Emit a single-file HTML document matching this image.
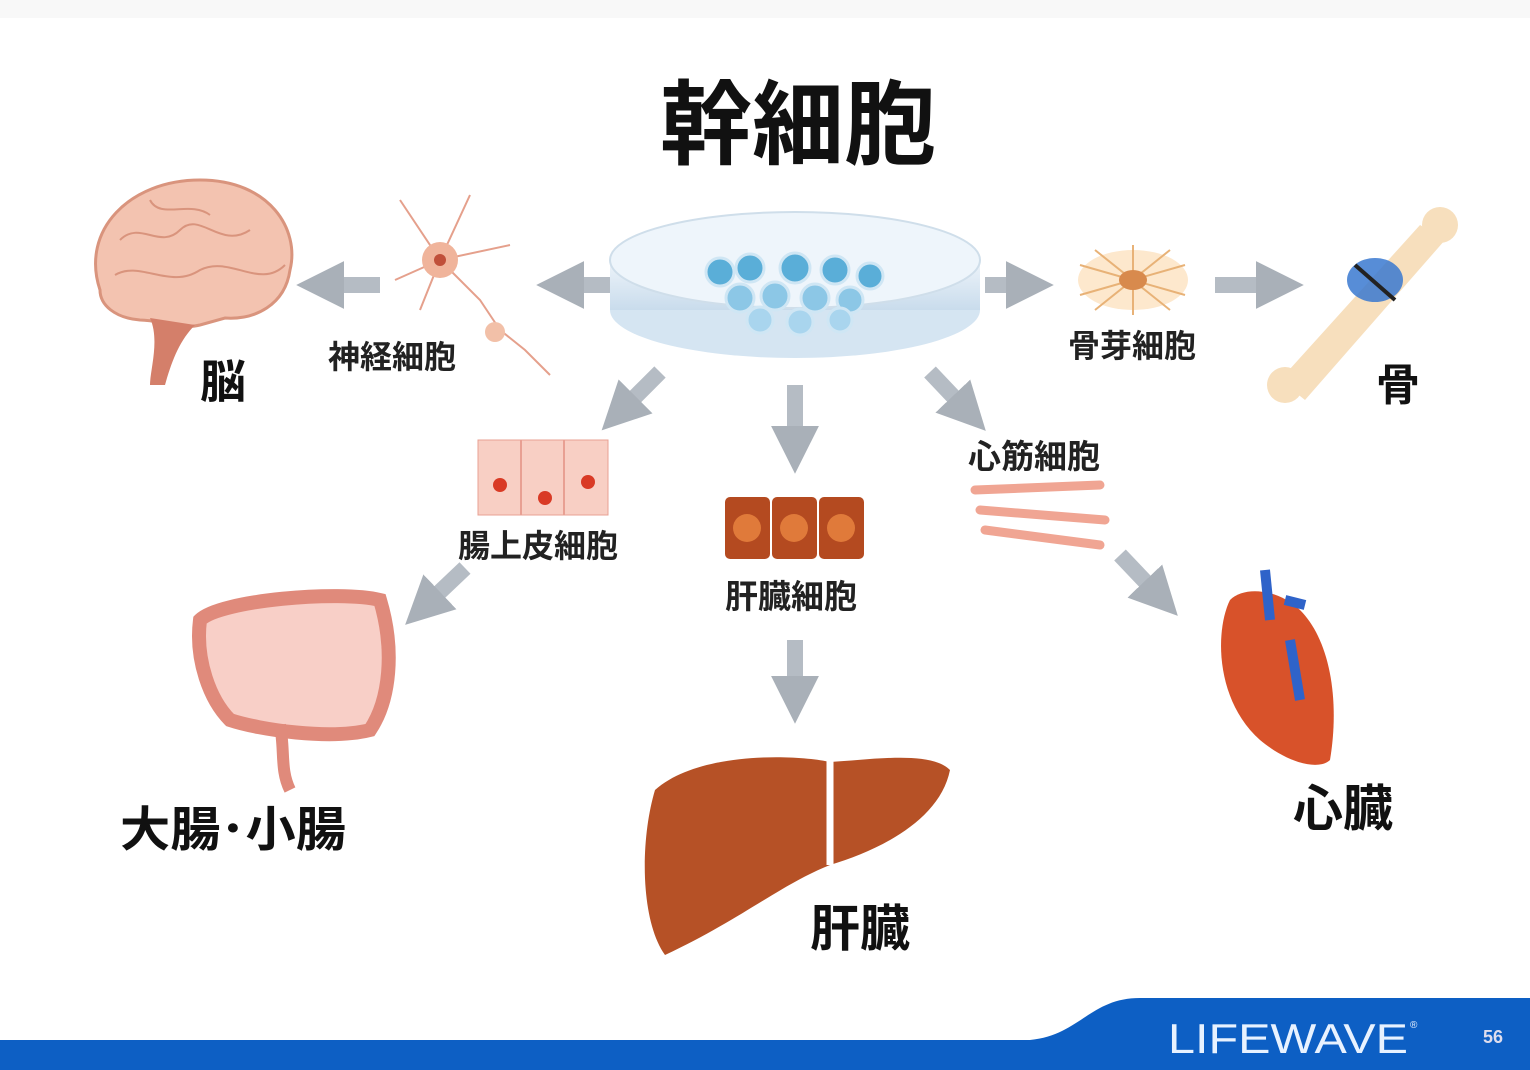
<!DOCTYPE html>
<html><head><meta charset="utf-8"><style>
body{margin:0;width:1530px;height:1070px;overflow:hidden;background:#fff;font-family:"Liberation Sans","Noto Sans CJK JP",sans-serif}
svg{position:absolute;left:0;top:0}
</style></head><body>
<svg width="1530" height="1070" viewBox="0 0 1530 1070">
<defs>
<marker id="ah" markerWidth="3" markerHeight="3" refX="1.2" refY="1.5" orient="auto" markerUnits="strokeWidth"><path d="M0,0 L3,1.5 L0,3 z" fill="#a9b0b8"/></marker>
<linearGradient id="dish" x1="0" y1="0" x2="0" y2="1"><stop offset="0" stop-color="#eef4fa"/><stop offset="1" stop-color="#c9dcec"/></linearGradient>
</defs>
<rect width="1530" height="1070" fill="#fff"/>
<rect width="1530" height="18" fill="#f8f8f8"/>
<!-- footer -->
<path d="M0,1040 L1030,1040 C1080,1035 1090,998 1140,998 L1530,998 L1530,1070 L0,1070 Z" fill="#0d5fc4"/>
<text x="1168" y="1053" font-size="42" fill="#e8f2ff" textLength="240" lengthAdjust="spacingAndGlyphs">LIFEWAVE</text>
<text x="1410" y="1028" font-size="10" fill="#e8f2ff">®</text>
<text x="1483" y="1043" font-size="18" fill="#dde" font-weight="bold">56</text>
<!-- title -->
<text x="798" y="157" font-size="92" text-anchor="middle" fill="#111" font-weight="bold">幹細胞</text>
<!-- arrows -->
<g stroke="#b5bcc4" stroke-width="16" fill="none" marker-end="url(#ah)">
<line x1="610" y1="285" x2="565" y2="285"/>
<line x1="380" y1="285" x2="325" y2="285"/>
<line x1="985" y1="285" x2="1025" y2="285"/>
<line x1="1215" y1="285" x2="1275" y2="285"/>
<line x1="660" y1="372" x2="622" y2="410"/>
<line x1="795" y1="385" x2="795" y2="445"/>
<line x1="930" y1="372" x2="966" y2="410"/>
<line x1="465" y1="568" x2="426" y2="605"/>
<line x1="795" y1="640" x2="795" y2="695"/>
<line x1="1120" y1="555" x2="1158" y2="595"/>
</g>
<!-- dish -->
<ellipse cx="795" cy="310" rx="185" ry="48" fill="#d5e5f2"/>
<rect x="610" y="260" width="370" height="50" fill="url(#dish)"/>
<ellipse cx="795" cy="260" rx="185" ry="48" fill="#eef5fb" stroke="#cfdeea" stroke-width="2"/>
<g fill="#5aaed8" stroke="#cfe6f4" stroke-width="3">
<circle cx="720" cy="272" r="14"/><circle cx="750" cy="268" r="14"/><circle cx="795" cy="268" r="15"/><circle cx="835" cy="270" r="14"/><circle cx="870" cy="276" r="13"/>
<circle cx="740" cy="298" r="14" fill="#8cc7e6"/><circle cx="775" cy="296" r="14" fill="#8cc7e6"/><circle cx="815" cy="298" r="14" fill="#8cc7e6"/><circle cx="850" cy="300" r="13" fill="#8cc7e6"/>
<circle cx="760" cy="320" r="13" fill="#a9d5ee"/><circle cx="800" cy="322" r="13" fill="#a9d5ee"/><circle cx="840" cy="320" r="12" fill="#a9d5ee"/>
</g>
<!-- brain -->
<path d="M100,290 C80,230 130,180 200,180 C270,180 300,230 290,270 C285,305 255,320 225,318 L200,325 C180,330 160,320 140,320 C115,318 100,305 100,290Z" fill="#f3c3b0" stroke="#d9947d" stroke-width="3"/>
<g stroke="#d9947d" stroke-width="2" fill="none"><path d="M120,240 C140,220 160,250 180,230 C200,210 220,250 250,230 M115,275 C140,260 170,290 200,270 C230,255 260,290 285,265 M150,200 C160,220 190,200 210,215"/></g>
<path d="M150,318 C160,340 150,370 150,385 L165,385 C172,360 180,340 195,325Z" fill="#d47f6a"/>
<text x="200" y="398" font-size="46" font-weight="bold" fill="#111">脳</text>
<!-- neuron -->
<g stroke="#e5a08c" stroke-width="2" fill="none">
<path d="M440,260 L400,200 M440,260 L470,195 M440,260 L510,245 M440,260 L395,280 M440,260 L480,300 L500,330 L525,350 L550,375 M440,260 L420,310"/>
</g>
<circle cx="440" cy="260" r="18" fill="#f0b49b"/><circle cx="440" cy="260" r="6" fill="#c0503a"/>
<circle cx="495" cy="332" r="10" fill="#f2c0a8"/>
<text x="328" y="368" font-size="32" font-weight="bold" fill="#222">神経細胞</text>
<!-- osteoblast -->
<ellipse cx="1133" cy="280" rx="55" ry="30" fill="#fde8cd"/>
<g stroke="#e8b277" stroke-width="2"><path d="M1080,265 L1185,295 M1080,295 L1185,265 M1133,245 L1133,315 M1095,250 L1170,310 M1170,250 L1095,310"/></g>
<ellipse cx="1133" cy="280" rx="14" ry="10" fill="#d88a4d"/>
<text x="1068" y="357" font-size="32" font-weight="bold" fill="#222">骨芽細胞</text>
<!-- bone -->
<path d="M1280,380 L1420,225 L1445,240 L1305,400Z" fill="#f7dfbd"/>
<circle cx="1285" cy="385" r="18" fill="#f7dfbd"/><circle cx="1440" cy="225" r="18" fill="#f7dfbd"/>
<ellipse cx="1375" cy="280" rx="28" ry="22" fill="#3a79d0" opacity="0.85"/>
<path d="M1355,265 L1395,300" stroke="#222" stroke-width="4"/>
<text x="1376" y="400" font-size="44" font-weight="bold" fill="#111">骨</text>
<!-- intestinal epithelium -->
<rect x="478" y="440" width="130" height="75" fill="#f8cfc4" stroke="#e8a093"/>
<g stroke="#e8a093" stroke-width="2"><line x1="521" y1="440" x2="521" y2="515"/><line x1="564" y1="440" x2="564" y2="515"/></g>
<circle cx="500" cy="485" r="7" fill="#d93a25"/><circle cx="545" cy="498" r="7" fill="#d93a25"/><circle cx="588" cy="482" r="7" fill="#d93a25"/>
<text x="458" y="557" font-size="32" font-weight="bold" fill="#222">腸上皮細胞</text>
<!-- liver cells -->
<g fill="#b44a20"><rect x="725" y="497" width="45" height="62" rx="5"/><rect x="772" y="497" width="45" height="62" rx="5"/><rect x="819" y="497" width="45" height="62" rx="5"/></g>
<g fill="#e07a3a"><circle cx="747" cy="528" r="14"/><circle cx="794" cy="528" r="14"/><circle cx="841" cy="528" r="14"/></g>
<text x="725" y="608" font-size="33" font-weight="bold" fill="#222">肝臓細胞</text>
<!-- cardiac -->
<g stroke="#f0a593" stroke-width="9" stroke-linecap="round"><line x1="975" y1="490" x2="1100" y2="485"/><line x1="980" y1="510" x2="1105" y2="520"/><line x1="985" y1="530" x2="1100" y2="545"/></g>
<text x="968" y="468" font-size="33" font-weight="bold" fill="#222">心筋細胞</text>
<!-- intestine -->
<path d="M200,620 C220,600 340,590 380,600 C395,650 390,700 370,730 C330,740 260,730 230,720 C210,700 195,660 200,620Z" fill="#f8cfc7" stroke="#e08a7b" stroke-width="14"/>
<path d="M280,725 C285,750 280,770 290,790" stroke="#e08a7b" stroke-width="12" fill="none"/>
<text x="120" y="846" font-size="48" font-weight="bold" fill="#111" textLength="226" lengthAdjust="spacingAndGlyphs">大腸･小腸</text>
<!-- liver -->
<path d="M655,790 C700,750 800,755 830,762 C870,760 930,750 950,770 C940,820 880,850 830,865 C780,885 740,920 665,955 C640,920 640,840 655,790Z" fill="#b65126"/>
<path d="M830,758 L830,865" stroke="#fff" stroke-width="7"/>
<text x="810" y="946" font-size="50" font-weight="bold" fill="#111">肝臓</text>
<!-- heart -->
<path d="M1230,600 C1215,630 1215,700 1260,740 C1290,765 1320,770 1330,760 C1340,700 1330,640 1300,610 C1280,590 1245,585 1230,600Z" fill="#d8522a"/>
<path d="M1265,570 L1270,620 M1285,600 L1305,605 M1290,640 L1300,700" stroke="#2f63c9" stroke-width="10" fill="none"/>
<text x="1293" y="826" font-size="50" font-weight="bold" fill="#111">心臓</text>
</svg>
</body></html>
